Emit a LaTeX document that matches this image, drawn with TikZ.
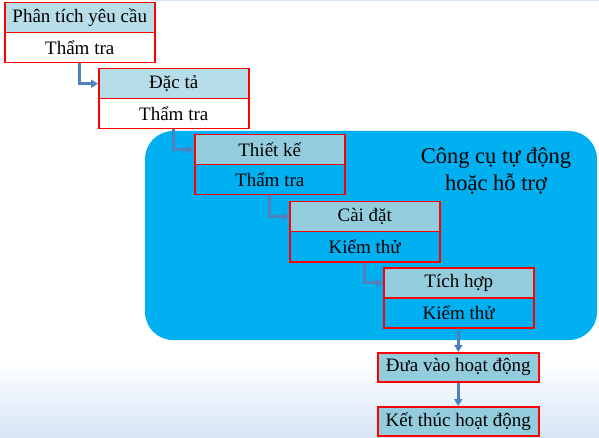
\documentclass[tikz,border=0pt]{standalone}
\usepackage{fontspec}
\setmainfont{Liberation Serif}
\usetikzlibrary{arrows.meta}
\definecolor{hdr}{HTML}{B7DEE8}
\definecolor{hdrb}{HTML}{93CDDD}
\definecolor{panelc}{HTML}{00B0F0}
\definecolor{arrc}{HTML}{4F81BD}
\definecolor{wave}{HTML}{D6E5F6}
\begin{document}
\begin{tikzpicture}[x=1pt,y=-1pt,
  cell/.style={draw=red, line width=1.5pt, minimum width=150pt, minimum height=30pt,
    inner sep=0pt, anchor=north west, font=\fontsize{19}{22}\selectfont},
  endcell/.style={cell, fill=hdrb, minimum width=161pt, minimum height=29pt},
  flow/.style={draw=arrc, line width=2.8pt, -{Triangle[length=7pt,width=8pt]}},
  ]
\useasboundingbox (0,0) rectangle (599,438);
% faint textured background at bottom
\shade[top color=white, bottom color=wave] (0,360) rectangle (599,438);
\fill[wave] (150,0) rectangle (599,1.5);
% panel
\node[draw=none, fill=panelc, rounded corners=28pt, minimum width=452pt, minimum height=209pt,
  inner sep=0pt] (panel) at (371,235.5) {};
\node[align=center, font=\fontsize{22.5}{27}\selectfont] (tool) at (496,171)
  {Công cụ tự động\\hoặc hỗ trợ};
% boxes
\node[cell, fill=hdr] (b1h) at (4,2) {Phân tích yêu cầu};
\node[cell, fill=white] (b1l) at (4,32) {Thẩm tra};
\node[cell, fill=hdr] (b2h) at (98,68) {Đặc tả};
\node[cell, fill=white] (b2l) at (98,98) {Thẩm tra};
\node[cell, fill=hdrb] (b3h) at (194,134) {Thiết kế};
\node[cell, fill=panelc] (b3l) at (194,164) {Thẩm tra};
\node[cell, fill=hdrb] (b4h) at (289,201) {Cài đặt};
\node[cell, fill=panelc] (b4l) at (289,231) {Kiểm thử};
\node[cell, fill=hdrb] (b5h) at (383,267) {Tích hợp};
\node[cell, fill=panelc] (b5l) at (383,297) {Kiểm thử};
\node[endcell] (b6) at (377,352) {Đưa vào hoạt động};
\node[endcell] (b7) at (377,406) {Kết thúc hoạt động};
% connectors
\draw[flow] (b1l.south) |- (b2h.west);
\draw[flow] (b2l.south) |- (b3h.west);
\draw[flow] (b3l.south) |- (b4h.west);
\draw[flow] (b4l.south) |- (b5h.west);
\draw[flow] (b5l.south) -- (b6.north);
\draw[flow] (b6.south) -- (b7.north);
\end{tikzpicture}
\end{document}
